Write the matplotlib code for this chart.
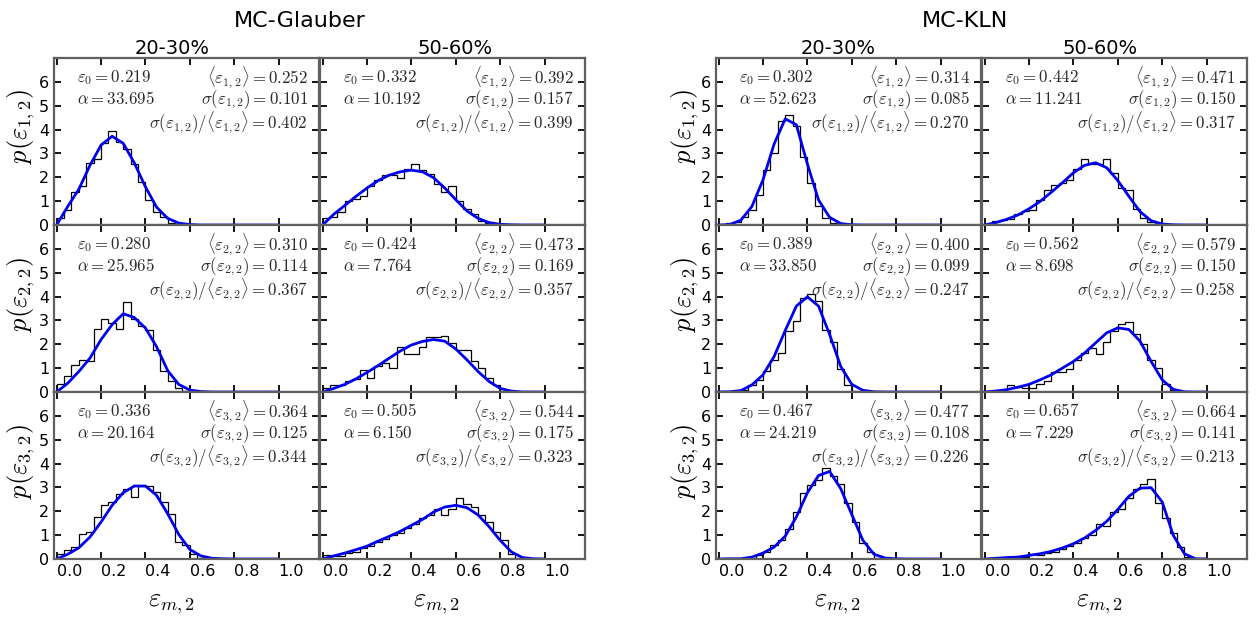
import numpy as np
import matplotlib
matplotlib.use('Agg')
import matplotlib.pyplot as plt

plt.rcParams['font.family'] = ['DejaVu Sans']
plt.rcParams['mathtext.fontset'] = 'cm'

models = ['MC-Glauber', 'MC-KLN']
centralities = ['20-30%', '50-60%']
moments = [1, 2, 3]

# 30 bins on [0, 1]
bin_edges = np.linspace(0, 1, 31)
# points where the fit curve was read
eps_fit = np.round(np.arange(0, 1.0001, 0.05), 2)

# ---- MC-Glauber ----
hist_glb_20_e1 = [0.28, 0.64, 1.37, 1.62, 2.6, 2.75, 3.42, 3.93, 3.46, 3.2, 2.55, 1.8, 1.05, 0.55, 0.32,
                  0.08, 0.02, 0, 0, 0, 0, 0, 0, 0, 0, 0, 0, 0, 0, 0]
fit_glb_20_e1 = [0, 0.78, 1.5, 2.5, 3.35, 3.72, 3.42, 2.6, 1.6, 0.75, 0.28, 0.08, 0.02, 0, 0, 0, 0, 0, 0, 0, 0]
hist_glb_50_e1 = [0.28, 0.35, 0.55, 1.0, 1.1, 1.2, 1.62, 1.9, 2.1, 2.1, 1.95, 2.33, 2.55, 2.3, 2.12,
                  1.7, 1.4, 1.65, 1.0, 0.65, 0.45, 0.18, 0.07, 0.03, 0, 0, 0, 0, 0, 0]
fit_glb_50_e1 = [0, 0.45, 0.82, 1.2, 1.55, 1.86, 2.09, 2.23, 2.3, 2.23, 1.98, 1.55, 1.06, 0.59, 0.28, 0.1,
                 0.03, 0.01, 0, 0, 0]
hist_glb_20_e2 = [0.32, 0.65, 1.14, 1.35, 1.28, 2.62, 3.04, 2.9, 2.62, 3.77, 3.04, 2.76, 2.58, 1.77, 0.9,
                  0.48, 0.15, 0.06, 0.02, 0, 0, 0, 0, 0, 0, 0, 0, 0, 0, 0]
fit_glb_20_e2 = [0, 0.37, 0.86, 1.42, 2.2, 2.83, 3.28, 3.12, 2.68, 1.9, 0.9, 0.32, 0.08, 0.02, 0, 0, 0, 0,
                 0, 0, 0]
hist_glb_50_e2 = [0.15, 0.28, 0.3, 0.45, 0.55, 0.93, 0.6, 1.07, 1.2, 1.0, 1.9, 1.58, 1.58, 1.9, 2.29,
                  2.29, 2.35, 2.06, 1.77, 1.77, 1.28, 1.0, 0.58, 0.3, 0.06, 0.02, 0, 0, 0, 0]
fit_glb_50_e2 = [0, 0.15, 0.32, 0.55, 0.82, 1.11, 1.42, 1.72, 1.97, 2.12, 2.2, 2.13, 1.8, 1.35, 0.86, 0.44,
                 0.15, 0.04, 0, 0, 0]
hist_glb_20_e3 = [0.22, 0.36, 0.5, 1.03, 1.13, 1.76, 2.25, 2.39, 2.74, 2.95, 2.6, 3.06, 3.06, 2.8, 2.4,
                  1.87, 0.7, 0.6, 0.22, 0.05, 0.04, 0.02, 0, 0, 0, 0, 0, 0, 0, 0]
fit_glb_20_e3 = [0, 0.2, 0.47, 0.92, 1.55, 2.25, 2.78, 3.06, 3.06, 2.67, 1.9, 1.03, 0.4, 0.13, 0.03, 0.01,
                 0, 0, 0, 0, 0]
hist_glb_50_e3 = [0.15, 0.13, 0.13, 0.25, 0.3, 0.45, 0.55, 0.7, 0.85, 1.0, 1.1, 1.3, 1.45, 1.7, 1.85,
                  2.1, 1.86, 2.1, 2.56, 2.32, 2.2, 1.83, 1.55, 1.13, 0.78, 0.2, 0.05, 0, 0, 0]
fit_glb_50_e3 = [0, 0.13, 0.25, 0.39, 0.54, 0.75, 0.95, 1.16, 1.41, 1.66, 1.97, 2.18, 2.25, 2.15, 1.85, 1.35,
                 0.78, 0.3, 0.06, 0.01, 0]

# ---- MC-KLN ----
hist_kln_20_e1 = [0.02, 0.07, 0.14, 0.35, 0.64, 1.27, 2.3, 3.0, 4.38, 4.59, 4.17, 2.85, 1.77, 0.78, 0.28,
                  0.07, 0.01, 0, 0, 0, 0, 0, 0, 0, 0, 0, 0, 0, 0, 0]
fit_kln_20_e1 = [0, 0.02, 0.2, 0.78, 1.9, 3.4, 4.45, 4.2, 2.55, 1.05, 0.32, 0.06, 0.01, 0, 0, 0, 0, 0, 0,
                 0, 0]
hist_kln_50_e1 = [0.05, 0.18, 0.2, 0.25, 0.45, 0.6, 0.64, 1.06, 1.48, 1.67, 1.77, 1.9, 2.33, 2.78, 2.54,
                  2.54, 2.75, 2.2, 1.55, 1.45, 0.66, 0.28, 0.14, 0.04, 0, 0, 0, 0, 0, 0]
fit_kln_50_e1 = [0, 0.1, 0.24, 0.42, 0.68, 0.99, 1.37, 1.77, 2.19, 2.5, 2.61, 2.4, 1.86, 1.2, 0.56, 0.18,
                 0.04, 0.01, 0, 0, 0]
hist_kln_20_e2 = [0, 0.01, 0.03, 0.08, 0.3, 0.5, 0.86, 1.35, 1.63, 2.55, 2.97, 3.93, 4.1, 3.8, 2.6,
                  2.1, 0.95, 0.3, 0.06, 0.01, 0, 0, 0, 0, 0, 0, 0, 0, 0, 0]
fit_kln_20_e2 = [0, 0.01, 0.06, 0.3, 0.72, 1.49, 2.58, 3.6, 3.99, 3.6, 2.41, 1.07, 0.32, 0.07, 0.01, 0, 0,
                 0, 0, 0, 0]
hist_kln_50_e2 = [0.02, 0.05, 0.1, 0.3, 0.2, 0.18, 0.18, 0.35, 0.45, 0.85, 0.85, 0.95, 1.35, 1.65, 1.85,
                  1.6, 2.1, 2.55, 2.85, 2.95, 2.45, 2.0, 1.35, 1.0, 0.32, 0.1, 0.02, 0, 0, 0]
fit_kln_50_e2 = [0, 0.04, 0.1, 0.2, 0.32, 0.51, 0.72, 1.0, 1.28, 1.63, 2.06, 2.48, 2.69, 2.62, 2.13, 1.28,
                 0.51, 0.11, 0.01, 0, 0]
hist_kln_20_e3 = [0, 0, 0, 0.02, 0.05, 0.15, 0.3, 0.6, 0.8, 1.25, 1.95, 2.75, 3.1, 3.3, 3.8,
                  3.5, 3.15, 2.35, 1.55, 0.68, 0.3, 0.06, 0.01, 0, 0, 0, 0, 0, 0, 0]
fit_kln_20_e3 = [0, 0.01, 0.01, 0.08, 0.25, 0.5, 0.96, 1.76, 2.78, 3.5, 3.67, 2.95, 1.86, 0.78, 0.2, 0.04,
                 0.01, 0, 0, 0, 0]
hist_kln_50_e3 = [0.01, 0.05, 0.05, 0.06, 0.08, 0.1, 0.2, 0.15, 0.25, 0.3, 0.4, 0.55, 0.65, 0.9, 1.0,
                  1.45, 1.4, 1.95, 2.1, 2.55, 2.95, 3.15, 3.35, 2.35, 1.7, 1.1, 0.5, 0.1, 0, 0]
fit_kln_50_e3 = [0, 0.03, 0.06, 0.08, 0.15, 0.22, 0.32, 0.46, 0.64, 0.88, 1.2, 1.58, 2.08, 2.63, 2.97, 2.99,
                 2.39, 0.99, 0.22, 0.01, 0]

# fit parameters / moments: rows = m, cols = centrality
eps0_glb = [['0.219', '0.332'], ['0.280', '0.424'], ['0.336', '0.505']]
alpha_glb = [['33.695', '10.192'], ['25.965', '7.764'], ['20.164', '6.150']]
mean_glb = [['0.252', '0.392'], ['0.310', '0.473'], ['0.364', '0.544']]
sigma_glb = [['0.101', '0.157'], ['0.114', '0.169'], ['0.125', '0.175']]
ratio_glb = [['0.402', '0.399'], ['0.367', '0.357'], ['0.344', '0.323']]

eps0_kln = [['0.302', '0.442'], ['0.389', '0.562'], ['0.467', '0.657']]
alpha_kln = [['52.623', '11.241'], ['33.850', '8.698'], ['24.219', '7.229']]
mean_kln = [['0.314', '0.471'], ['0.400', '0.579'], ['0.477', '0.664']]
sigma_kln = [['0.085', '0.150'], ['0.099', '0.150'], ['0.108', '0.141']]
ratio_kln = [['0.270', '0.317'], ['0.247', '0.258'], ['0.226', '0.213']]

hists = {
    'MC-Glauber': [[hist_glb_20_e1, hist_glb_50_e1], [hist_glb_20_e2, hist_glb_50_e2],
                   [hist_glb_20_e3, hist_glb_50_e3]],
    'MC-KLN': [[hist_kln_20_e1, hist_kln_50_e1], [hist_kln_20_e2, hist_kln_50_e2],
               [hist_kln_20_e3, hist_kln_50_e3]],
}
fits = {
    'MC-Glauber': [[fit_glb_20_e1, fit_glb_50_e1], [fit_glb_20_e2, fit_glb_50_e2],
                   [fit_glb_20_e3, fit_glb_50_e3]],
    'MC-KLN': [[fit_kln_20_e1, fit_kln_50_e1], [fit_kln_20_e2, fit_kln_50_e2],
               [fit_kln_20_e3, fit_kln_50_e3]],
}
params = {
    'MC-Glauber': (eps0_glb, alpha_glb, mean_glb, sigma_glb, ratio_glb),
    'MC-KLN': (eps0_kln, alpha_kln, mean_kln, sigma_kln, ratio_kln),
}

W, H = 1257, 628
fig = plt.figure(figsize=(W / 100, H / 100), dpi=100)

group_left = [54, 716]    # px
col_w = 265
row_top = [58, 225, 392]
row_h = 167
txt_col = '#2a2a2a'
fs_ann = 12.2

# label positions (px) as in the original layout
title_x = [[172, 455], [838, 1100]]
xlab_x = [[172, 437], [838, 1100]]
ylab_x = [21, 685]
ylab_y = [127, 295, 462]
group_x = [300, 965]

for g, model in enumerate(models):
    e0s, als, mns, sgs, rts = params[model]
    for r, m in enumerate(moments):
        for c, cent in enumerate(centralities):
            left = group_left[g] + c * (col_w + 1)
            ax = fig.add_axes([left / W, 1 - (row_top[r] + row_h) / H, col_w / W, row_h / H])
            ax.stairs(hists[model][r][c], bin_edges, color='black', lw=0.9)
            ax.plot(eps_fit, fits[model][r][c], color='#0000ee', lw=2.0)
            ax.set_xlim(-0.012, 1.182)
            ax.set_ylim(0, 7)
            ax.set_xticks([0, 0.2, 0.4, 0.6, 0.8, 1.0])
            ax.set_yticks(range(7))
            ax.tick_params(direction='in', top=True, right=True, length=5, width=1.3,
                           labelsize=11.5, colors='black')
            for sp in ax.spines.values():
                sp.set_color('#606060')
                sp.set_linewidth(1.6)
            if c > 0:
                ax.set_yticklabels([])
            if r < 2:
                ax.set_xticklabels([])
            else:
                for lab in ax.get_xticklabels():
                    lab.set_horizontalalignment('left')
                fig.text(xlab_x[g][c] / W, 1 - 603 / H, r'$\varepsilon_{m,2}$', fontsize=19,
                         ha='center', va='center')
            if r == 0:
                fig.text(title_x[g][c] / W, 1 - 48 / H, cent, fontsize=14, ha='center', va='center')
            if c == 0:
                fig.text(ylab_x[g] / W, 1 - ylab_y[r] / H, r'$p(\varepsilon_{%d,2})$' % m,
                         fontsize=19, rotation=90, ha='center', va='center')

            sub = r'_{%d,2}' % m
            ax.text(0.088, 0.884, r'$\varepsilon_0=%s$' % e0s[r][c], transform=ax.transAxes,
                    ha='left', va='center', fontsize=fs_ann, color=txt_col)
            ax.text(0.088, 0.752, r'$\alpha=%s$' % als[r][c], transform=ax.transAxes,
                    ha='left', va='center', fontsize=fs_ann, color=txt_col)
            ax.text(0.958, 0.884, r'$\langle\varepsilon%s\rangle=%s$' % (sub, mns[r][c]),
                    transform=ax.transAxes, ha='right', va='center', fontsize=fs_ann, color=txt_col)
            ax.text(0.958, 0.752, r'$\sigma(\varepsilon%s)=%s$' % (sub, sgs[r][c]),
                    transform=ax.transAxes, ha='right', va='center', fontsize=fs_ann, color=txt_col)
            ax.text(0.958, 0.615, r'$\sigma(\varepsilon%s)/\langle\varepsilon%s\rangle=%s$'
                    % (sub, sub, rts[r][c]),
                    transform=ax.transAxes, ha='right', va='center', fontsize=fs_ann, color=txt_col)

    fig.text(group_x[g] / W, 1 - 21 / H, model, ha='center', va='center', fontsize=16)

fig.savefig('out.png', dpi=100)
